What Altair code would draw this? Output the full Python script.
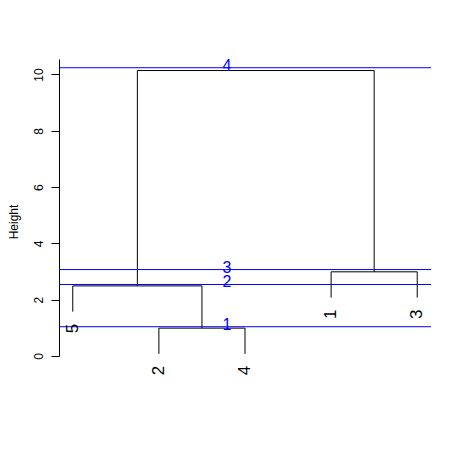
import altair as alt
import pandas as pd

# ---- data ----
leaf_labels = ["5", "2", "4", "1", "3"]            # left-to-right leaf order
merge_children = [["2", "4"], ["5", "m1"], ["1", "3"], ["m2", "m3"]]
merge_heights = [0.99, 2.49, 2.99, 10.14]
cut_heights = [1.04, 2.54, 3.07, 10.24]
cut_labels = ["1", "2", "3", "4"]
cut_label_x = 2.79
hang = 0.1
y_ticks = [0, 2, 4, 6, 8, 10]

FONT = "Liberation Sans"

# ---- build dendrogram geometry (R plot.hclust style) ----
hang_h = hang * (max(merge_heights) - min(merge_heights))
pos = {lab: i + 1 for i, lab in enumerate(leaf_labels)}
top = {}
leaf_bottom = {}
segs = []
for i, (kids, h) in enumerate(zip(merge_children, merge_heights)):
    name = f"m{i + 1}"
    for k in kids:
        if k.startswith("m"):
            start = top[k]
        else:
            start = h - hang_h
            leaf_bottom[k] = start
        segs.append({"x": pos[k], "x2": pos[k], "y": start, "y2": h})
    segs.append({"x": pos[kids[0]], "x2": pos[kids[1]], "y": h, "y2": h})
    pos[name] = (pos[kids[0]] + pos[kids[1]]) / 2
    top[name] = h

seg_df = pd.DataFrame(segs)
n = len(leaf_labels)
x_lo = 1 - 0.04 * (n - 1)
x_hi = n + 0.04 * (n - 1)
leaf_df = pd.DataFrame({
    "label": leaf_labels,
    "x": [pos[l] for l in leaf_labels],
    "y": [leaf_bottom[l] for l in leaf_labels],
})
cut_df = pd.DataFrame({
    "label": cut_labels,
    "h": cut_heights,
    "x": [x_lo] * len(cut_heights),
    "x2": [x_hi] * len(cut_heights),
    "lx": [cut_label_x] * len(cut_heights),
})

xs = alt.Scale(domain=[x_lo, x_hi], nice=False, zero=False)
ys = alt.Scale(domain=[0, 10.55], nice=False, zero=False)

yaxis = alt.Axis(
    values=y_ticks, format="d", grid=False,
    labelAngle=270, labelAlign="center", labelBaseline="bottom",
    labelFont=FONT, labelFontSize=12, labelColor="black", labelPadding=6,
    labelFlush=False, labelOverlap=False,
    tickColor="black", tickSize=8, domainColor="black",
    title="Height", titleFont=FONT, titleFontSize=12, titleFontWeight="normal",
    titleColor="black", titleAngle=270, titleAlign="center", titleBaseline="bottom",
    titleX=-39, titleY=162.5,
)

segments = alt.Chart(seg_df).mark_rule(color="black", strokeWidth=1).encode(
    x=alt.X("x:Q", scale=xs, axis=None),
    x2="x2:Q",
    y=alt.Y("y:Q", scale=ys, axis=yaxis),
    y2="y2:Q",
)

cut_lines = alt.Chart(cut_df).mark_rule(color="#0000FF", strokeWidth=1).encode(
    x=alt.X("x:Q", scale=xs, axis=None),
    x2="x2:Q",
    y=alt.Y("h:Q", scale=ys, axis=yaxis),
)

cut_text = alt.Chart(cut_df).mark_text(
    color="#0000FF", font=FONT, fontSize=16, baseline="middle", align="center", dy=-2
).encode(
    x=alt.X("lx:Q", scale=xs, axis=None),
    y=alt.Y("h:Q", scale=ys, axis=yaxis),
    text="label:N",
)

leaf_text = alt.Chart(leaf_df).mark_text(
    color="black", font=FONT, fontSize=17, angle=270, align="right",
    baseline="middle", dx=-12
).encode(
    x=alt.X("x:Q", scale=xs, axis=None),
    y=alt.Y("y:Q", scale=ys, axis=yaxis),
    text="label:N",
)

chart = alt.layer(segments, cut_lines, cut_text, leaf_text).properties(
    width=372, height=297,
    padding={"left": 51, "top": 51, "right": 20, "bottom": 80},
    autosize=alt.AutoSizeParams(type="none"),
    background="white",
).configure_view(stroke=None)

chart.save("out.html", embed_options={"renderer": "svg", "actions": False})
